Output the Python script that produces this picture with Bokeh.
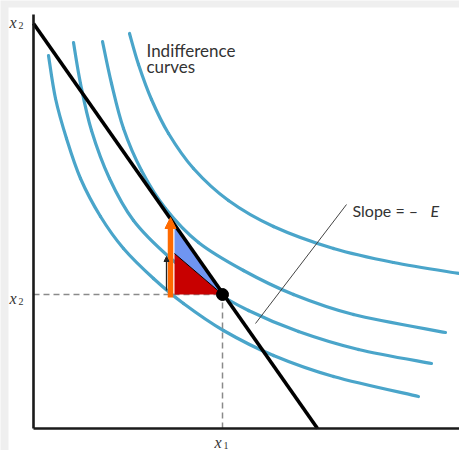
from bokeh.plotting import figure
from bokeh.models import Range1d, Arrow, NormalHead
from bokeh.core.properties import value
from bokeh.embed import file_html
from bokeh.resources import INLINE

# Indifference curves as (x1, x2) pairs, inner to outer
curve1_x = [15, 22, 33, 47, 67, 90, 120, 150, 190, 240, 300, 385]
curve1_y = [373, 330, 290, 250, 212, 180, 150, 125, 98, 73, 52, 32]
curve2_x = [40, 47, 58, 76, 100, 135, 175, 215, 265, 325, 398]
curve2_y = [386, 345, 298, 250, 208, 172, 141, 118, 97, 79, 65]
curve3_x = [69, 78, 90, 108, 132, 165, 210, 260, 320, 412]
curve3_y = [387, 345, 300, 258, 220, 186, 158, 134, 114, 96]
curve4_x = [96, 105, 118, 135, 160, 195, 240, 300, 360, 426]
curve4_y = [395, 364, 329, 295, 260, 228, 202, 180, 166, 155]
curves_x = [curve1_x, curve2_x, curve3_x, curve4_x]
curves_y = [curve1_y, curve2_y, curve3_y, curve4_y]

# Budget line intercepts and the chosen bundle
budget_x1_max = 284
budget_x2_max = 405
bundle_x1 = 189
bundle_x2 = 134

# Small trade-off triangle to the left of the bundle
step_x1 = 141
curve_x2_at_step = 175
budget_x2_at_step = budget_x2_max * (1 - step_x1 / budget_x1_max)

# Arrows beside the triangle
orange_x1 = 137
orange_x2 = [131, 211]
small_x1 = 133
small_x2 = [138, 172]

# Leader from the "Slope" note to the budget line
leader_x = [222, 313]
leader_y = [105, 224]

CURVE = "#4aa5ca"
INK = "#1a1a1a"
LABEL = "#333333"
FONT = value("Lato")
SERIF = value("Liberation Serif")


def smooth_segments(xs, ys):
    """Cubic Bezier pieces through the given points (Catmull-Rom tangents)."""
    n = len(xs)
    seg = {k: [] for k in ("x0", "y0", "x1", "y1", "cx0", "cy0", "cx1", "cy1")}
    for i in range(n - 1):
        a = max(i - 1, 0)
        d = min(i + 2, n - 1)
        seg["x0"].append(xs[i]); seg["y0"].append(ys[i])
        seg["x1"].append(xs[i + 1]); seg["y1"].append(ys[i + 1])
        seg["cx0"].append(xs[i] + (xs[i + 1] - xs[a]) / 6)
        seg["cy0"].append(ys[i] + (ys[i + 1] - ys[a]) / 6)
        seg["cx1"].append(xs[i + 1] - (xs[d] - xs[i]) / 6)
        seg["cy1"].append(ys[i + 1] - (ys[d] - ys[i]) / 6)
    return seg


p = figure(width=459, height=450, output_backend="svg", toolbar_location=None,
           x_range=Range1d(-33, 426), y_range=Range1d(-22, 428),
           min_border=0, outline_line_color=None)
p.axis.visible = False
p.grid.visible = False
p.background_fill_color = "#efefef"
p.border_fill_color = "#efefef"

# white drawing sheet
p.quad(left=-25, right=426, bottom=-22, top=421, fill_color="white", line_color=None)

# indifference curves
for cx, cy in zip(curves_x, curves_y):
    p.bezier(**smooth_segments(cx, cy), line_color=CURVE, line_width=3.2, line_cap="round")

# guides to the bundle
p.segment(x0=0, y0=bundle_x2, x1=bundle_x1, y1=bundle_x2, line_color="#8a8a8a",
          line_width=1.5, line_dash="6 4")
p.segment(x0=bundle_x1, y0=0, x1=bundle_x1, y1=bundle_x2, line_color="#8a8a8a",
          line_width=1.5, line_dash="6 4")

# triangles
p.patch([step_x1, step_x1, bundle_x1], [curve_x2_at_step, budget_x2_at_step, bundle_x2],
        fill_color="#6f95f2", line_color=None)
p.patch([step_x1, step_x1, bundle_x1], [bundle_x2, curve_x2_at_step, bundle_x2],
        fill_color="#c80000", line_color=None)
p.segment(x0=step_x1, y0=curve_x2_at_step, x1=bundle_x1, y1=bundle_x2,
          line_color="black", line_width=1)

# budget line
p.line([0, budget_x1_max], [budget_x2_max, 0], line_color="black", line_width=3.6)

# axes
p.line([0, 0], [0, 414], line_color=INK, line_width=2.6)
p.line([0, 426], [0, 0], line_color=INK, line_width=2.6)

# arrows
p.add_layout(Arrow(end=NormalHead(size=11, fill_color="#ff6a00", line_color="#ff6a00"),
                   x_start=orange_x1, y_start=orange_x2[0], x_end=orange_x1, y_end=orange_x2[1],
                   line_color="#ff6a00", line_width=5.5))
p.add_layout(Arrow(end=NormalHead(size=5, fill_color="#222222", line_color="#222222"),
                   x_start=small_x1, y_start=small_x2[0], x_end=small_x1, y_end=small_x2[1],
                   line_color="#222222", line_width=1.3))

# bundle
p.scatter([bundle_x1], [bundle_x2], size=12, fill_color="black", line_color="black")

# leader line
p.line(leader_x, leader_y, line_color="#444444", line_width=1)

# text
p.text([113], [378], text=["Indifference"], text_font=FONT, text_font_size=value("17px"),
       text_color=LABEL, text_baseline="alphabetic")
p.text([113], [362], text=["curves"], text_font=FONT, text_font_size=value("17px"),
       text_color=LABEL, text_baseline="alphabetic")
p.text([319], [218], text=["Slope = \u2013"], text_font=FONT, text_font_size=value("16px"),
       text_color=LABEL, text_baseline="alphabetic")
p.text([397], [218], text=["E"], text_font=FONT, text_font_size=value("16px"),
       text_font_style="italic", text_color=LABEL, text_baseline="alphabetic")


# axis symbols
def axis_symbol(x, y, sub):
    p.text([x], [y], text=["x"], text_font=SERIF, text_font_size=value("16px"),
           text_font_style="italic", text_color=LABEL, text_baseline="alphabetic")
    p.text([x + 9], [y - 3], text=[sub], text_font=SERIF, text_font_size=value("10px"),
           text_color=LABEL, text_baseline="alphabetic")


axis_symbol(-24, 406, "2")
axis_symbol(-24, 130, "2")
axis_symbol(181, -14, "1")

open("out.html", "w").write(file_html(p, INLINE))
